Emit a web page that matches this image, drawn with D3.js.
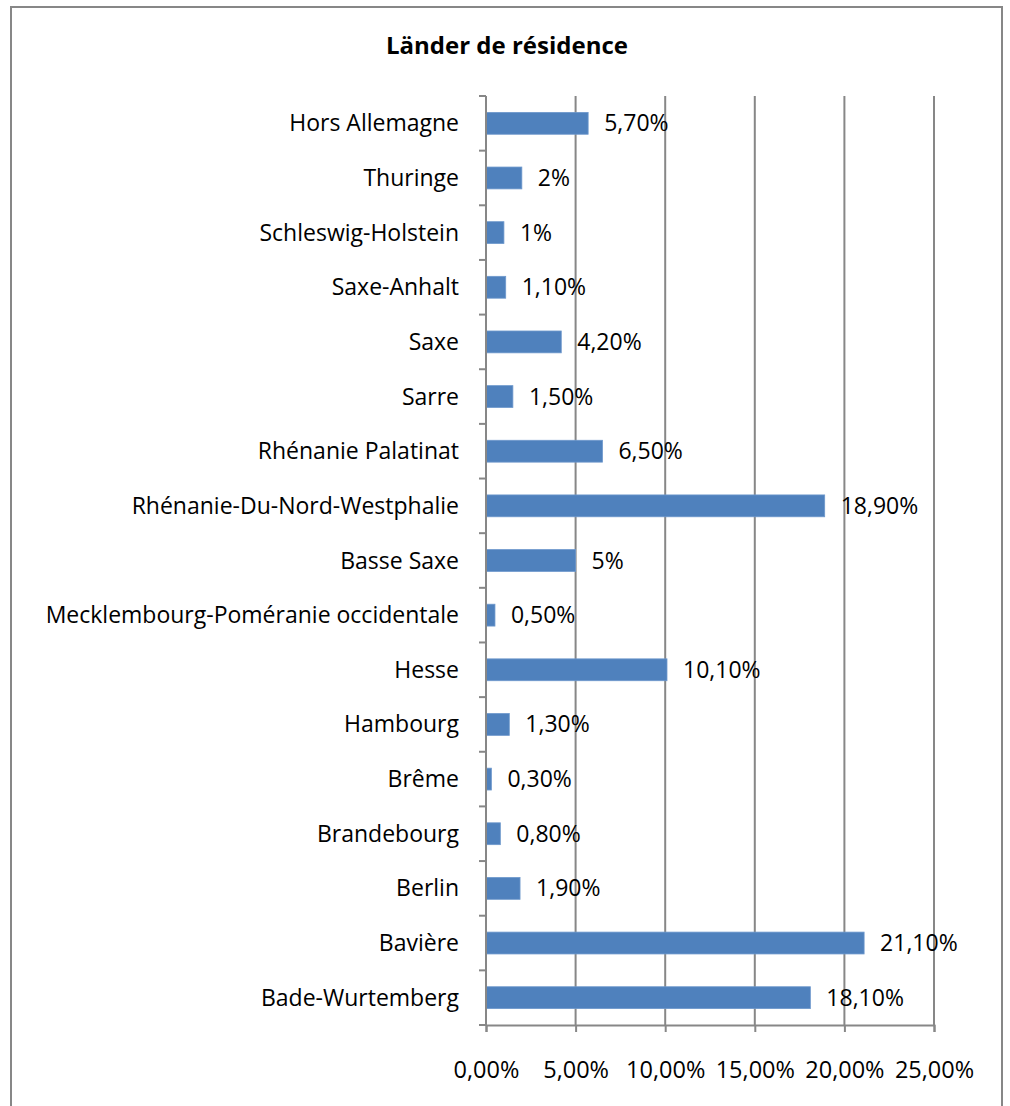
<!DOCTYPE html>
<html>
<head>
<meta charset="utf-8">
<script src="https://cdn.jsdelivr.net/npm/d3@7"></script>
<style>
  body { margin: 0; background: #fff; }
  svg text { font-family: "Open Sans", sans-serif; fill: #000; }
</style>
</head>
<body>
<div id="chart"></div>
<script>
// categories bottom to top as in the source chart
const categories = [
  'Bade-Wurtemberg', 'Bavière', 'Berlin', 'Brandebourg', 'Brême', 'Hambourg', 'Hesse',
  'Mecklembourg-Poméranie occidentale', 'Basse Saxe', 'Rhénanie-Du-Nord-Westphalie',
  'Rhénanie Palatinat', 'Sarre', 'Saxe', 'Saxe-Anhalt', 'Schleswig-Holstein', 'Thuringe',
  'Hors Allemagne'
];
const values = [18.1, 21.1, 1.9, 0.8, 0.3, 1.3, 10.1, 0.5, 5, 18.9, 6.5, 1.5, 4.2, 1.1, 1, 2, 5.7];
const valueLabels = ['18,10%', '21,10%', '1,90%', '0,80%', '0,30%', '1,30%', '10,10%', '0,50%',
  '5%', '18,90%', '6,50%', '1,50%', '4,20%', '1,10%', '1%', '2%', '5,70%'];
const xTicks = [0, 5, 10, 15, 20, 25];
const title = 'Länder de résidence';

const width = 1010, height = 1106;
const margin = {top: 96, right: 76, bottom: 81, left: 486};
const innerW = width - margin.left - margin.right;
const innerH = height - margin.top - margin.bottom;

const svg = d3.select('#chart').append('svg')
  .attr('width', width)
  .attr('height', height);

// outer frame (bottom edge runs off the picture)
svg.append('rect')
  .attr('x', 11).attr('y', 7)
  .attr('width', 991).attr('height', 1110)
  .attr('fill', 'none')
  .attr('stroke', '#878787')
  .attr('stroke-width', 2);

svg.append('text')
  .attr('x', 507).attr('y', 54)
  .attr('text-anchor', 'middle')
  .attr('font-size', 24)
  .attr('font-weight', 'bold')
  .text(title);

const chart = svg.append('g')
  .attr('transform', `translate(${margin.left},${margin.top})`);

const x = d3.scaleLinear().domain([0, 25]).range([0, innerW]);
const y = d3.scaleBand().domain(categories.slice().reverse()).range([0, innerH]);

// vertical gridlines
chart.selectAll('.grid')
  .data(xTicks.slice(1))
  .join('line')
  .attr('class', 'grid')
  .attr('x1', d => x(d)).attr('x2', d => x(d))
  .attr('y1', 0).attr('y2', innerH)
  .attr('stroke', '#878787')
  .attr('stroke-width', 2);

const barH = y.bandwidth() / 2.5;
chart.selectAll('.bar')
  .data(categories)
  .join('rect')
  .attr('class', 'bar')
  .attr('x', 0)
  .attr('y', d => y(d) + (y.bandwidth() - barH) / 2)
  .attr('width', (d, i) => x(values[i]))
  .attr('height', barH)
  .attr('fill', '#4f81bd')
  .attr('stroke', '#6e98cc')
  .attr('stroke-width', 0.8);

chart.selectAll('.value-label')
  .data(categories)
  .join('text')
  .attr('class', 'value-label')
  .attr('x', (d, i) => x(values[i]) + 16)
  .attr('y', d => y(d) + y.bandwidth() / 2)
  .attr('dy', '0.35em')
  .attr('font-size', 23)
  .text((d, i) => valueLabels[i]);

// x axis
const xAxis = chart.append('g')
  .attr('transform', `translate(0,${innerH})`)
  .call(d3.axisBottom(x).tickValues(xTicks).tickSize(7).tickPadding(29)
    .tickFormat(d => d3.format('.2f')(d).replace('.', ',') + '%'));
xAxis.select('.domain').attr('stroke', '#878787').attr('stroke-width', 2);
xAxis.selectAll('.tick line').attr('stroke', '#878787').attr('stroke-width', 2);
xAxis.selectAll('.tick text').attr('font-size', 23.5).attr('fill', '#000');

// y axis with ticks at category boundaries
const yAxis = chart.append('g');
yAxis.append('line')
  .attr('x1', 0).attr('x2', 0).attr('y1', 0).attr('y2', innerH)
  .attr('stroke', '#878787').attr('stroke-width', 2);
yAxis.selectAll('.ytick')
  .data(d3.range(categories.length + 1))
  .join('line')
  .attr('class', 'ytick')
  .attr('x1', -7).attr('x2', 0)
  .attr('y1', i => i * y.step()).attr('y2', i => i * y.step())
  .attr('stroke', '#878787').attr('stroke-width', 2);
yAxis.selectAll('.ylabel')
  .data(categories)
  .join('text')
  .attr('class', 'ylabel')
  .attr('x', -27)
  .attr('y', d => y(d) + y.bandwidth() / 2)
  .attr('dy', '0.35em')
  .attr('text-anchor', 'end')
  .attr('font-size', 23)
  .text(d => d);
</script>
</body>
</html>
